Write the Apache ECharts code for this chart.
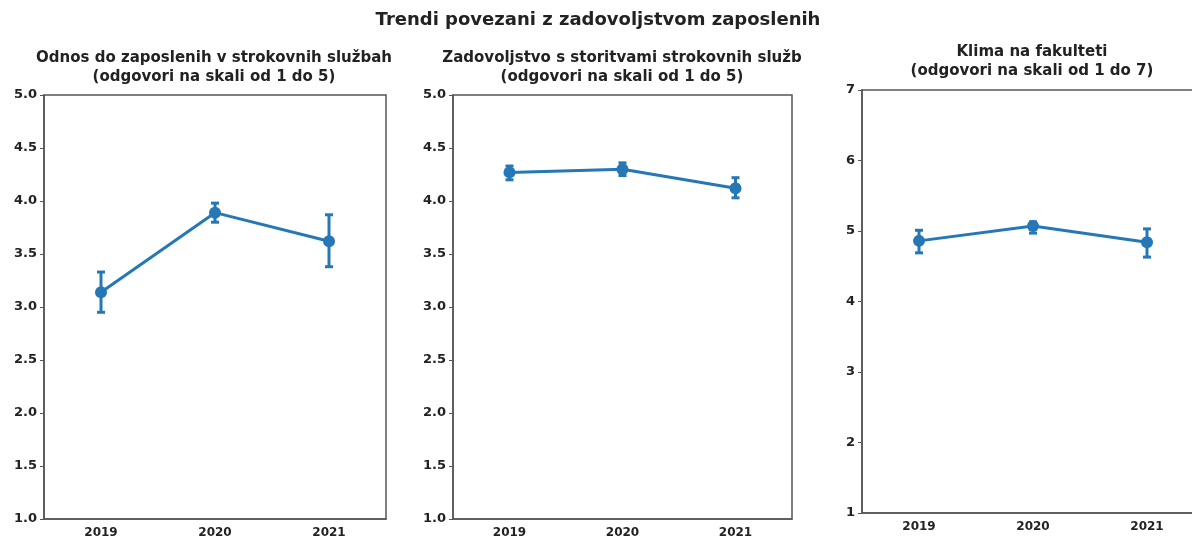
<!DOCTYPE html>
<html>
<head>
<meta charset="utf-8">
<script src="https://cdn.jsdelivr.net/npm/echarts@6/dist/echarts.min.js"></script>
<style>
  html, body { margin: 0; padding: 0; background: #fff; overflow: hidden; }
  #chart { width: 1215px; height: 541px; }
</style>
</head>
<body>
<div id="chart"></div>
<script>
// podatki
var years = ['2019', '2020', '2021'];

var odnosMean = [3.14, 3.89, 3.62];
var odnosLow = [2.95, 3.80, 3.38];
var odnosHigh = [3.33, 3.98, 3.87];

var zadovMean = [4.27, 4.30, 4.12];
var zadovLow = [4.20, 4.24, 4.03];
var zadovHigh = [4.33, 4.36, 4.22];

var klimaMean = [4.86, 5.07, 4.84];
var klimaLow = [4.69, 4.97, 4.63];
var klimaHigh = [5.01, 5.13, 5.03];

var blue = '#2677b5';
var fontFam = 'DejaVu Sans';

function errBars(idx, low, high) {
  var data = years.map(function (y, i) { return [i, low[i], high[i]]; });
  return {
    type: 'custom',
    xAxisIndex: idx,
    yAxisIndex: idx,
    z: 3,
    data: data,
    renderItem: function (params, api) {
      var x = api.value(0);
      var lo = api.coord([x, api.value(1)]);
      var hi = api.coord([x, api.value(2)]);
      var cap = 4;
      var st = { stroke: blue, lineWidth: 3 };
      return {
        type: 'group',
        children: [
          { type: 'line', shape: { x1: lo[0], y1: lo[1], x2: hi[0], y2: hi[1] }, style: st },
          { type: 'line', shape: { x1: lo[0] - cap, y1: lo[1], x2: lo[0] + cap, y2: lo[1] }, style: st },
          { type: 'line', shape: { x1: hi[0] - cap, y1: hi[1], x2: hi[0] + cap, y2: hi[1] }, style: st }
        ]
      };
    }
  };
}

function lineSeries(idx, vals) {
  return {
    type: 'line',
    xAxisIndex: idx,
    yAxisIndex: idx,
    data: vals,
    symbol: 'circle',
    symbolSize: 12,
    z: 4,
    lineStyle: { color: blue, width: 3 },
    itemStyle: { color: blue },
    animation: false
  };
}

function xAx(idx) {
  return {
    type: 'category',
    gridIndex: idx,
    data: years,
    boundaryGap: true,
    axisLine: { lineStyle: { color: '#555', width: 1.5 } },
    axisTick: { alignWithLabel: true, length: 4, lineStyle: { color: '#555' } },
    axisLabel: { color: '#222', fontSize: 12, fontWeight: 'bold', fontFamily: fontFam, margin: 8 },
    splitLine: { show: false }
  };
}

function yAx(idx, min, max, step, dec) {
  return {
    type: 'value',
    gridIndex: idx,
    min: min,
    max: max,
    interval: step,
    axisLine: { show: true, lineStyle: { color: '#555', width: 1.5 } },
    axisTick: { show: true, length: 4, lineStyle: { color: '#555' } },
    axisLabel: {
      color: '#222', fontSize: 13, fontWeight: 'bold', fontFamily: fontFam, margin: 7,
      formatter: function (v) { return dec ? v.toFixed(1) : String(v); }
    },
    splitLine: { show: false }
  };
}

var chart = echarts.init(document.getElementById('chart'));
var subTitle = { color: '#222', fontSize: 15, fontWeight: 'bold', fontFamily: fontFam, lineHeight: 19 };

chart.setOption({
  animation: false,
  backgroundColor: '#fff',
  title: [
    { text: 'Trendi povezani z zadovoljstvom zaposlenih', left: 598, top: 11, textAlign: 'center', padding: 0,
      textStyle: { color: '#222', fontSize: 18, fontWeight: 'bold', fontFamily: fontFam } },
    { text: 'Odnos do zaposlenih v strokovnih službah\n(odgovori na skali od 1 do 5)', left: 214, top: 49, textAlign: 'center', padding: 0,
      textStyle: subTitle },
    { text: 'Zadovoljstvo s storitvami strokovnih služb\n(odgovori na skali od 1 do 5)', left: 622, top: 49, textAlign: 'center', padding: 0,
      textStyle: subTitle },
    { text: 'Klima na fakulteti\n(odgovori na skali od 1 do 7)', left: 1032, top: 43, textAlign: 'center', padding: 0,
      textStyle: subTitle }
  ],
  grid: [
    { left: 44, top: 95, width: 342, height: 424, show: true, borderColor: '#555', borderWidth: 1.5 },
    { left: 453, top: 95, width: 339, height: 424, show: true, borderColor: '#555', borderWidth: 1.5 },
    { left: 862, top: 90, width: 342, height: 423, show: true, borderColor: '#555', borderWidth: 1.5 }
  ],
  xAxis: [xAx(0), xAx(1), xAx(2)],
  yAxis: [yAx(0, 1, 5, 0.5, true), yAx(1, 1, 5, 0.5, true), yAx(2, 1, 7, 1, false)],
  series: [
    errBars(0, odnosLow, odnosHigh), lineSeries(0, odnosMean),
    errBars(1, zadovLow, zadovHigh), lineSeries(1, zadovMean),
    errBars(2, klimaLow, klimaHigh), lineSeries(2, klimaMean)
  ]
});
</script>
</body>
</html>
